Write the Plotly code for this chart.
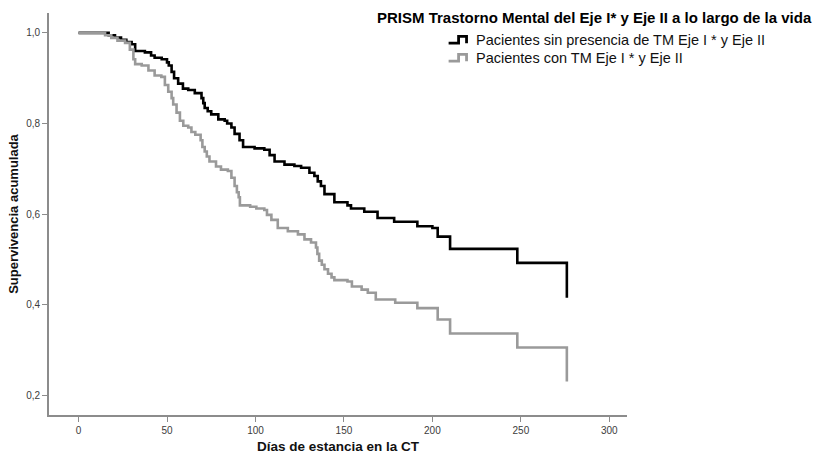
import plotly.graph_objects as go

# Kaplan-Meier estimates: time (days) at which the cumulative survival drops to each value
tiempo_sin = [0, 17, 20.6, 24, 27, 30, 32, 37.5, 41, 43, 47, 50, 51, 52.6, 54, 56.3, 59, 62,
              65.7, 69.5, 70.5, 71.3, 73, 75, 79, 82.6, 84, 86.4, 88.2, 91, 93, 99.5, 105,
              108, 110.8, 116.4, 122, 125.8, 130.5, 133.3, 135.2, 137, 139, 144.6, 152,
              154, 161.5, 169, 178.4, 191.5, 200, 203, 210, 248, 276]
superv_sin = [1.0, 0.995, 0.99, 0.985, 0.98, 0.975, 0.96, 0.957, 0.95, 0.945, 0.942, 0.935,
              0.928, 0.914, 0.9, 0.888, 0.877, 0.874, 0.867, 0.856, 0.845, 0.834, 0.827,
              0.82, 0.809, 0.806, 0.8, 0.791, 0.777, 0.763, 0.748, 0.745, 0.742, 0.73,
              0.716, 0.709, 0.706, 0.702, 0.691, 0.684, 0.672, 0.662, 0.644, 0.626, 0.619,
              0.612, 0.605, 0.591, 0.583, 0.573, 0.569, 0.55, 0.523, 0.492, 0.415]

tiempo_con = [0, 15, 18.5, 22, 26.3, 29, 31, 32, 35.7, 39.5, 43, 46.8, 48.8, 50.7, 52.6,
              53.5, 55.4, 57.3, 59.2, 62, 63.8, 66, 69, 70, 71.3, 72.5, 74, 77.7, 80.5,
              84.4, 86.4, 88.2, 89.5, 90.5, 91.2, 97, 100.5, 105, 106.5, 109, 112.6, 118.3,
              124, 127.7, 131.4, 134.2, 135, 136, 137.5, 139, 141, 143, 144.6, 152, 154.5,
              160, 163.5, 168, 179, 191.5, 203, 210, 248, 276]
superv_con = [1.0, 0.995, 0.989, 0.983, 0.978, 0.963, 0.942, 0.931, 0.928, 0.917, 0.906,
              0.903, 0.885, 0.87, 0.856, 0.842, 0.824, 0.806, 0.795, 0.791, 0.781, 0.775,
              0.763, 0.748, 0.738, 0.727, 0.716, 0.705, 0.698, 0.695, 0.68, 0.662, 0.648,
              0.637, 0.619, 0.616, 0.612, 0.609, 0.598, 0.587, 0.569, 0.562, 0.555, 0.544,
              0.537, 0.526, 0.512, 0.497, 0.488, 0.478, 0.468, 0.46, 0.454, 0.451, 0.44,
              0.433, 0.426, 0.411, 0.404, 0.392, 0.367, 0.336, 0.305, 0.23]

x_ticks = [0, 50, 100, 150, 200, 250, 300]
y_ticks = [0.2, 0.4, 0.6, 0.8, 1.0]

titulo_leyenda = "PRISM Trastorno Mental del Eje I* y Eje II a lo largo de la vida"
grupos = ["Pacientes sin presencia de TM Eje I * y Eje II",
          "Pacientes con TM Eje I * y Eje II"]
colores = ["#000000", "#9a9a9a"]

FONT = "Liberation Sans, Arial, Helvetica, sans-serif"
W, H = 821, 464
ML, MR, MT, MB = 47, 194, 13, 38
PW, PH = W - ML - MR, H - MT - MB


def px_to_paper(px, py):
    return (px - ML) / PW, (H - MB - py) / PH


fig = go.Figure()
for t, s, nombre, color in [(tiempo_sin, superv_sin, grupos[0], colores[0]),
                            (tiempo_con, superv_con, grupos[1], colores[1])]:
    fig.add_trace(go.Scatter(x=t, y=s, mode="lines", name=nombre,
                             line=dict(color=color, width=2.6, shape="hv"),
                             showlegend=False))

axis_common = dict(showgrid=False, zeroline=False, showline=True, linecolor="#8c8c8c",
                   linewidth=1.6, ticks="outside", ticklen=5, tickwidth=1.2,
                   tickcolor="#8c8c8c", mirror=False,
                   tickfont=dict(family=FONT, size=10, color="#3c3c3c"))

fig.update_xaxes(range=[-16.7, 310], tickvals=x_ticks, **axis_common,
                 title=dict(text="<b>Días de estancia en la CT</b>", standoff=7,
                            font=dict(family=FONT, size=13.5, color="#111")))
fig.update_yaxes(range=[0.156, 1.044], tickvals=y_ticks, tickformat=".1f", **axis_common,
                 title=dict(text="<b>Supervivencia acumulada</b>", standoff=5,
                            font=dict(family=FONT, size=13, color="#111")))

# Legend: title, step glyphs and labels
annotations = []
tx, ty = px_to_paper(815, 18)
annotations.append(dict(x=tx, y=ty, xref="paper", yref="paper", xanchor="right",
                        yanchor="middle", showarrow=False, text="<b>" + titulo_leyenda + "</b>",
                        font=dict(family=FONT, size=15, color="#000")))
shapes = []
for i, (nombre, color) in enumerate(zip(grupos, colores)):
    cy = 41 + i * 18.5
    lx, ly = px_to_paper(473, cy)
    annotations.append(dict(x=lx, y=ly, xref="paper", yref="paper", xanchor="left",
                            yanchor="middle", showarrow=False, text=nombre,
                            font=dict(family=FONT, size=14.5, color="#111")))
    pts = [(448, cy + 3), (458, cy + 3), (458, cy - 4), (466, cy - 4), (466, cy + 3)]
    path = "M " + " L ".join("%.5f,%.5f" % px_to_paper(a, b) for a, b in pts)
    shapes.append(dict(type="path", path=path, xref="paper", yref="paper",
                       line=dict(color=color, width=2.8)))

fig.update_layout(width=W, height=H, margin=dict(l=ML, r=MR, t=MT, b=MB),
                  paper_bgcolor="white", plot_bgcolor="white", separators=",.",
                  annotations=annotations, shapes=shapes,
                  font=dict(family=FONT))

fig.write_html("out.html")
